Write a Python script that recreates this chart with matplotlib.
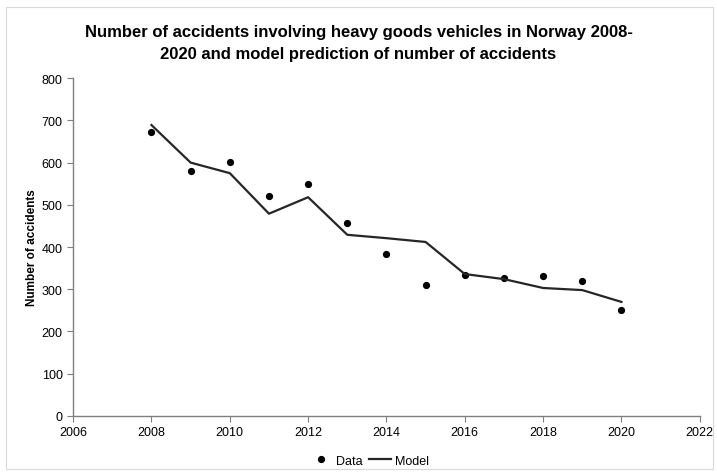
import matplotlib.pyplot as plt
from matplotlib.patches import Rectangle

plt.rcParams['font.family'] = ['Liberation Sans Narrow', 'Liberation Sans', 'DejaVu Sans']

# values
years = [2008, 2009, 2010, 2011, 2012, 2013, 2014, 2015, 2016, 2017, 2018, 2019, 2020]
data = [673, 581, 602, 520, 549, 458, 383, 311, 334, 326, 332, 319, 250]
model = [689, 600, 575, 479, 518, 429, 421, 412, 336, 324, 303, 298, 270]

fig = plt.figure(figsize=(7.17, 4.77), dpi=100)
ax = fig.add_axes([0.102, 0.126, 0.874, 0.708])

# chart area border like the spreadsheet chart
fig.patches.append(Rectangle((0.008, 0.015), 0.986, 0.968, transform=fig.transFigure,
                             fill=False, edgecolor='#d9d9d9', linewidth=0.8))

ax.plot(years, data, 'o', color='black', markersize=4.2, label='Data')
ax.plot(years, model, '-', color='#262626', linewidth=1.6, label='Model')

ax.set_xlim(2006, 2022)
ax.set_ylim(0, 800)
ax.set_xticks(range(2006, 2023, 2))
ax.set_yticks(range(0, 801, 100))

for s in ['top', 'right']:
    ax.spines[s].set_visible(False)
for s in ['left', 'bottom']:
    ax.spines[s].set_color('#7f7f7f')
    ax.spines[s].set_linewidth(1.0)
ax.tick_params(axis='both', direction='out', length=4, color='#7f7f7f', labelsize=9)

ax.set_ylabel('Number of accidents', fontsize=8.5, fontweight='bold', labelpad=3)

fig.text(0.5, 0.908, 'Number of accidents involving heavy goods vehicles in Norway 2008-\n'
         '2020 and model prediction of number of accidents',
         ha='center', va='center', fontsize=12, fontweight='bold', linespacing=1.6)

fig.legend(loc='center', bbox_to_anchor=(0.515, 0.032), ncol=2, frameon=False,
           fontsize=9, handlelength=1.8, columnspacing=0.5, handletextpad=0.3)

fig.savefig('out.png', dpi=100)
